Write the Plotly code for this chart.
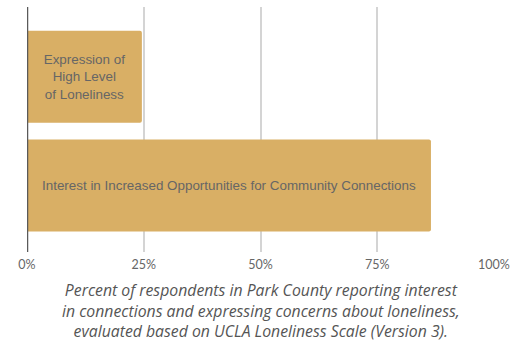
import plotly.graph_objects as go

categories = [
    "Expression of<br>High Level<br>of Loneliness",
    "Interest in Increased Opportunities for Community Connections",
]
percent_values = [24.6, 86.5]
tick_values = [0, 25, 50, 75, 100]
tick_labels = ["0%", "25%", "50%", "75%", "100%"]
caption_lines = [
    "Percent of respondents in Park County reporting interest",
    "in connections and expressing concerns about loneliness,",
    "evaluated based on UCLA Loneliness Scale (Version 3).",
]

bar_color = "#D9AF65"
text_grey = "#666666"

fig = go.Figure(
    go.Bar(
        x=percent_values,
        y=list(range(len(categories))),
        orientation="h",
        width=0.845,
        marker=dict(color=bar_color, line=dict(width=0)),
        text=categories,
        textposition="inside",
        insidetextanchor="middle",
        textangle=0,
        textfont=dict(family="Liberation Sans, Arial, sans-serif", size=13.4, color=text_grey),
        hoverinfo="skip",
    )
)

fig.update_layout(
    width=530,
    height=343,
    margin=dict(l=27, r=36, t=7, b=91),
    paper_bgcolor="white",
    plot_bgcolor="white",
    showlegend=False,
    barcornerradius=2,
    xaxis=dict(
        range=[0, 100],
        tickvals=tick_values,
        ticktext=tick_labels,
        showgrid=True,
        gridcolor="#d4d4d4",
        gridwidth=1.5,
        zeroline=False,
        showline=False,
        ticks="",
        ticklabelstandoff=3,
        tickfont=dict(family="Lato, sans-serif", size=12.5, color=text_grey),
        fixedrange=True,
    ),
    yaxis=dict(
        range=[1.61, -0.64],
        showticklabels=False,
        showgrid=False,
        zeroline=False,
        showline=False,
        ticks="",
        fixedrange=True,
    ),
    shapes=[
        dict(
            type="line", xref="x", yref="paper",
            x0=0, x1=0, y0=0, y1=1,
            line=dict(color="#5a5a5a", width=2.5),
        )
    ],
    annotations=[
        dict(
            text="<br>".join(caption_lines),
            xref="paper", yref="paper",
            x=0.5, y=-0.1,
            xanchor="center", yanchor="top",
            showarrow=False,
            align="center",
            font=dict(family="Open Sans, sans-serif", size=15.8, color="#555555", style="italic"),
        )
    ],
)

fig.write_html("out.html")
